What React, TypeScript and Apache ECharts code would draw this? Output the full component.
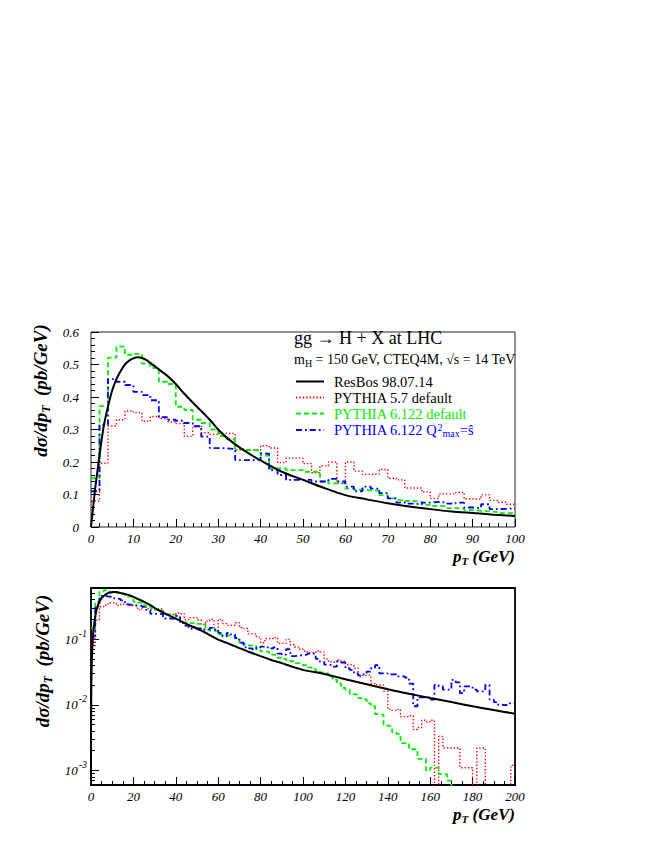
import React, { useEffect, useRef } from "react";
import * as echarts from "echarts";

// ---------- data ----------
const BIN_WIDTH = 2; // GeV, histogram bin width
const NAME_RESBOS = "ResBos 98.07.14";
const NAME_P57 = "PYTHIA 5.7 default";
const NAME_P6 = "PYTHIA 6.122 default";
const NAME_P6Q = "PYTHIA 6.122 Q2max=s";

// PYTHIA 5.7 default, 2 GeV bins from 0 to 200 GeV (pb/GeV)
const pythia57 = [
  0.08, 0.196, 0.311, 0.33, 0.357, 0.352, 0.325, 0.34, 0.334, 0.324,
  0.318, 0.279, 0.31, 0.29, 0.285, 0.288, 0.288, 0.237, 0.237, 0.237,
  0.25, 0.243, 0.198, 0.212, 0.212, 0.195, 0.167, 0.188, 0.2, 0.135,
  0.2, 0.172, 0.162, 0.163, 0.177, 0.15, 0.145, 0.12, 0.12, 0.108,
  0.088, 0.102, 0.102, 0.106, 0.086, 0.086, 0.099, 0.082, 0.076, 0.07,
  0.066, 0.062, 0.062, 0.066, 0.064, 0.05, 0.045, 0.044, 0.048, 0.046,
  0.041, 0.04, 0.036, 0.027, 0.028, 0.028, 0.021, 0.02, 0.02, 0.016,
  0.0085, 0.0082, 0.0085, 0.0066, 0.0066, 0.0068, 0.0042, 0.0045, 0.0058, 0.0055,
  0.0058, 0, 0.0033, 0.0022, 0.0022, 0.0022, 0.0022, 0.0011, 0.0011, 0.0011,
  0, 0.0022, 0.0022, 0, 0, 0, 0, 0, 0, 0.0012,
];

// PYTHIA 6.122 default
const pythia6122 = [
  0.15, 0.372, 0.521, 0.555, 0.53, 0.533, 0.503, 0.49, 0.447, 0.44,
  0.37, 0.36, 0.33, 0.32, 0.3, 0.28, 0.27, 0.24, 0.237, 0.235,
  0.22, 0.18, 0.18, 0.175, 0.175, 0.17, 0.17, 0.14, 0.134, 0.134,
  0.118, 0.115, 0.113, 0.112, 0.098, 0.088, 0.083, 0.08, 0.078, 0.068,
  0.065, 0.064, 0.058, 0.057, 0.052, 0.05, 0.048, 0.046, 0.043, 0.042,
  0.04, 0.037, 0.035, 0.033, 0.031, 0.03, 0.027, 0.024, 0.021, 0.018,
  0.017, 0.0145, 0.0142, 0.0126, 0.0122, 0.0105, 0.0095, 0.0072, 0.0071, 0.0048,
  0.0047, 0.0038, 0.0036, 0.0026, 0.0026, 0.0021, 0.0021, 0.0015, 0.0015, 0.001,
  0.0011, 0.0011, 0.00088, 0.00087, 0.0007, 0, 0, 0, 0, 0,
  0, 0, 0, 0, 0, 0, 0, 0, 0, 0,
];

// PYTHIA 6.122 with Q2max = s-hat
const pythia6122Q = [
  0.11, 0.315, 0.455, 0.447, 0.437, 0.416, 0.406, 0.39, 0.338, 0.33,
  0.327, 0.32, 0.31, 0.278, 0.243, 0.242, 0.24, 0.206, 0.206, 0.206,
  0.226, 0.175, 0.16, 0.145, 0.145, 0.145, 0.14, 0.14, 0.148, 0.14,
  0.124, 0.11, 0.124, 0.118, 0.104, 0.088, 0.075, 0.072, 0.07, 0.075,
  0.077, 0.075, 0.072, 0.075, 0.06, 0.058, 0.07, 0.055, 0.056, 0.057,
  0.058, 0.06, 0.06, 0.05, 0.045, 0.041, 0.04, 0.038, 0.046, 0.044,
  0.036, 0.034, 0.03, 0.028, 0.029, 0.032, 0.036, 0.04, 0.03, 0.03,
  0.029, 0.029, 0.027, 0.027, 0.026, 0.021, 0.0095, 0.013, 0.013, 0.013,
  0.012, 0.02, 0.019, 0.017, 0.017, 0.024, 0.022, 0.015, 0.019, 0.019,
  0.017, 0.016, 0.016, 0.02, 0.012, 0.011, 0.01, 0.0098, 0.0105, 0.0105,
];

// ResBos curve
const resbosPt = [
  0, 0.004, 0.02, 0.1, 0.25, 0.5, 1, 1.5, 2, 3, 4, 5, 6, 7, 8, 9, 10, 11, 12, 13,
  14, 15, 16, 18, 20, 22, 25, 28, 30, 32, 35, 38, 40, 45, 50, 55, 60, 65, 70, 75,
  80, 85, 90, 95, 100, 110, 120, 130, 140, 150, 160, 170, 180, 190, 200,
];
const resbosVal = [
  0, 0.0005, 0.0025, 0.012, 0.03, 0.06, 0.12, 0.17, 0.22, 0.31, 0.37, 0.42, 0.455, 0.48, 0.5, 0.512, 0.519, 0.522, 0.52, 0.514,
  0.505, 0.495, 0.485, 0.465, 0.44, 0.41, 0.37, 0.33, 0.3, 0.275, 0.245, 0.22, 0.205, 0.17, 0.145, 0.12, 0.098, 0.085, 0.073, 0.063,
  0.055, 0.048, 0.043, 0.038, 0.034, 0.0295, 0.0245, 0.0205, 0.0172, 0.0147, 0.0127, 0.011, 0.0095, 0.0083, 0.0073,
];

const logMajorTicks = [0.001, 0.01, 0.1];
const logMinorTicks = [
  0.0006, 0.0007, 0.0008, 0.0009,
  0.002, 0.003, 0.004, 0.005, 0.006, 0.007, 0.008, 0.009,
  0.02, 0.03, 0.04, 0.05, 0.06, 0.07, 0.08, 0.09,
  0.2, 0.3, 0.4, 0.5, 0.6,
];
const LOG_FLOOR = 1e-5; // empty bins drawn below the log axis range

// ---------- helpers ----------
const FONT = "Liberation Serif";

function histo(vals: number[], nBins: number, floor = 0): number[][] {
  const pts: number[][] = [];
  for (let i = 0; i < nBins; i++) pts.push([i * BIN_WIDTH, vals[i] > 0 ? vals[i] : floor]);
  pts.push([nBins * BIN_WIDTH, vals[nBins - 1] > 0 ? vals[nBins - 1] : floor]);
  return pts;
}

function curve(maxPt: number, positiveOnly: boolean): number[][] {
  const pts: number[][] = [];
  resbosPt.forEach((p, i) => {
    if (p <= maxPt && (!positiveOnly || resbosVal[i] > 0)) pts.push([p, resbosVal[i]]);
  });
  return pts;
}

const STYLES: Record<string, any> = {
  [NAME_RESBOS]: { color: "#000000", width: 2, type: "solid" },
  [NAME_P57]: { color: "#ff0000", width: 1.4, type: [1.4, 2] },
  [NAME_P6]: { color: "#00ee00", width: 1.8, type: [5, 3] },
  [NAME_P6Q]: { color: "#0000ff", width: 1.8, type: [6, 3, 1.8, 3] },
};

function mkSeries(name: string, data: number[][], ax: number, smooth = false) {
  const st = STYLES[name];
  return {
    type: "line",
    name,
    xAxisIndex: ax,
    yAxisIndex: ax,
    data,
    step: smooth ? false : "end",
    smooth: smooth ? 0.3 : false,
    symbol: "none",
    showSymbol: false,
    clip: true,
    color: st.color,
    lineStyle: { color: st.color, width: st.width, type: st.type },
    z: name === NAME_RESBOS ? 5 : 3,
  };
}

const tickLabel = { fontFamily: FONT, fontStyle: "italic", fontWeight: "normal", fontSize: 13, color: "#000" };
const nameRich = {
  a: { fontFamily: FONT, fontStyle: "italic", fontWeight: "bold", fontSize: 17, color: "#000" },
  s: { fontFamily: FONT, fontStyle: "italic", fontWeight: "bold", fontSize: 11, color: "#000", padding: [9, 0, 0, 0] },
};
const yNameRich = {
  a: { fontFamily: FONT, fontStyle: "italic", fontWeight: "bold", fontSize: 19, color: "#000" },
  s: { fontFamily: FONT, fontStyle: "italic", fontWeight: "bold", fontSize: 12, color: "#000", padding: [10, 0, 0, 0] },
};

function tickAxis(extra: any) {
  return {
    type: "value",
    axisLine: { show: false },
    splitLine: { show: false },
    axisLabel: { show: false },
    ...extra,
  };
}

function legendFor(name: string, top: number, color: string) {
  const isQ = name === NAME_P6Q;
  return {
    left: 295,
    top,
    padding: 0,
    itemWidth: 28,
    itemHeight: 14,
    itemStyle: { opacity: 0 },
    data: [{ name, textStyle: { color } }],
    formatter: isQ ? () => "PYTHIA 6.122 Q{sup|2}{sub|max}=ŝ" : undefined,
    textStyle: {
      fontFamily: FONT,
      fontSize: 14.5,
      lineHeight: 14,
      fontWeight: "normal",
      color,
      padding: [0, 0, 0, 5],
      rich: {
        sup: { fontFamily: FONT, fontSize: 10, lineHeight: 10, color, padding: [0, 0, 6, 0] },
        sub: { fontFamily: FONT, fontSize: 10, lineHeight: 10, color, padding: [6, 0, 0, 0] },
      },
    },
  };
}

export default function App() {
  const ref = useRef<HTMLDivElement>(null);
  useEffect(() => {
    if (!ref.current) return;
    const chart = echarts.init(ref.current, undefined, { renderer: "svg" });
    const option: any = {
      animation: false,
      backgroundColor: "#ffffff",
      title: [
        {
          text: "gg → H + X at LHC",
          left: 294,
          top: 329,
          padding: 0,
          textStyle: { fontFamily: FONT, fontSize: 18, fontWeight: "normal", color: "#000" },
        },
        {
          text: "{n|m}{sub|H}{n| = 150 GeV, CTEQ4M, √s = 14 TeV}",
          left: 294,
          top: 350,
          padding: 0,
          textStyle: {
            fontWeight: "normal",
            fontFamily: FONT,
            rich: {
              n: { fontFamily: FONT, fontSize: 14, fontWeight: "normal", color: "#000" },
              sub: { fontFamily: FONT, fontSize: 10, fontWeight: "normal", color: "#000", padding: [8, 0, 0, 0] },
            },
          },
        },
      ],
      legend: [
        legendFor(NAME_RESBOS, 374, "#000000"),
        legendFor(NAME_P57, 390, "#000000"),
        legendFor(NAME_P6, 406, "#00ee00"),
        legendFor(NAME_P6Q, 422, "#0000ff"),
      ],
      grid: [
        { left: 91, top: 332, width: 424, height: 195, show: true, borderColor: "#222", borderWidth: 1, backgroundColor: "transparent" },
        { left: 91, top: 588, width: 424, height: 197, show: true, borderColor: "#000", borderWidth: 1.8, backgroundColor: "transparent" },
      ],
      xAxis: [
        {
          gridIndex: 0, type: "value", min: 0, max: 100, interval: 10, position: "bottom",
          axisLine: { show: false }, splitLine: { show: false },
          axisTick: { inside: true, length: 8, lineStyle: { color: "#000", width: 1 } },
          axisLabel: { ...tickLabel, margin: 5 },
          name: "{a|p}{s|T}{a| (GeV)}",
          nameLocation: "end", nameGap: 0,
          nameTextStyle: { align: "right", verticalAlign: "top", padding: [19, 0, 0, 0], rich: nameRich },
        },
        tickAxis({ gridIndex: 0, min: 0, max: 100, interval: 2, position: "bottom", axisTick: { inside: true, length: 4, lineStyle: { color: "#000", width: 1 } } }),
        {
          gridIndex: 1, type: "value", min: 0, max: 200, interval: 20, position: "bottom",
          axisLine: { show: false }, splitLine: { show: false },
          axisTick: { inside: true, length: 8, lineStyle: { color: "#000", width: 1 } },
          axisLabel: { ...tickLabel, margin: 5 },
          name: "{a|p}{s|T}{a| (GeV)}",
          nameLocation: "end", nameGap: 0,
          nameTextStyle: { align: "right", verticalAlign: "top", padding: [19, 0, 0, 0], rich: nameRich },
        },
        tickAxis({ gridIndex: 1, min: 0, max: 200, interval: 5, position: "bottom", axisTick: { inside: true, length: 4, lineStyle: { color: "#000", width: 1 } } }),
      ],
      yAxis: [
        {
          gridIndex: 0, type: "value", min: 0, max: 0.6, interval: 0.1, position: "left",
          axisLine: { show: false }, splitLine: { show: false },
          axisTick: { inside: true, length: 8, lineStyle: { color: "#000", width: 1 } },
          axisLabel: { ...tickLabel, margin: 12 },
          name: "{a|dσ/dp}{s|T}{a|  (pb/GeV)}",
          nameLocation: "middle", nameGap: 33, nameRotate: 90,
          nameTextStyle: { rich: yNameRich, padding: [0, 0, 0, 78] },
        },
        tickAxis({ gridIndex: 0, min: 0, max: 0.6, interval: 0.02, position: "left", axisTick: { inside: true, length: 4, lineStyle: { color: "#000", width: 1 } } }),
        {
          gridIndex: 1, type: "log", logBase: 10, min: 0.0006, max: 0.6, position: "left",
          axisLine: { show: false }, splitLine: { show: false },
          axisTick: { inside: true, length: 8, customValues: logMajorTicks, lineStyle: { color: "#000", width: 1 } },
          axisLabel: {
            customValues: logMajorTicks,
            margin: 4,
            formatter: (v: number) => {
              const e = Math.round(Math.log10(v));
              if (Math.abs(Math.log10(v) - e) > 1e-6) return "";
              return "{b|10}{s|" + e + "}";
            },
            rich: {
              b: { ...tickLabel, fontSize: 13 },
              s: { ...tickLabel, fontSize: 10, padding: [0, 0, 12, 1] },
            },
          },
          name: "{a|dσ/dp}{s|T}{a|  (pb/GeV)}",
          nameLocation: "middle", nameGap: 33, nameRotate: 90,
          nameTextStyle: { rich: yNameRich, padding: [0, 0, 0, 51] },
        },
        {
          gridIndex: 1, type: "log", logBase: 10, min: 0.0006, max: 0.6, position: "left",
          axisLine: { show: false }, splitLine: { show: false }, axisLabel: { show: false },
          axisTick: { inside: true, length: 4, customValues: logMinorTicks, lineStyle: { color: "#000", width: 1 } },
        },
      ],
      series: [
        mkSeries(NAME_P57, histo(pythia57, 50), 0),
        mkSeries(NAME_P6, histo(pythia6122, 50), 0),
        mkSeries(NAME_P6Q, histo(pythia6122Q, 50), 0),
        mkSeries(NAME_RESBOS, curve(100, false), 0, true),
        { ...mkSeries(NAME_P57, histo(pythia57, 100, LOG_FLOOR), 2), yAxisIndex: 2 },
        { ...mkSeries(NAME_P6, histo(pythia6122, 100, LOG_FLOOR), 2), yAxisIndex: 2 },
        { ...mkSeries(NAME_P6Q, histo(pythia6122Q, 100, LOG_FLOOR), 2), yAxisIndex: 2 },
        { ...mkSeries(NAME_RESBOS, curve(200, true), 2, true), yAxisIndex: 2 },
      ],
    };
    chart.setOption(option);
    return () => chart.dispose();
  }, []);
  return <div ref={ref} style={{ position: "absolute", left: 0, top: 0, width: 654, height: 846 }} />;
}
